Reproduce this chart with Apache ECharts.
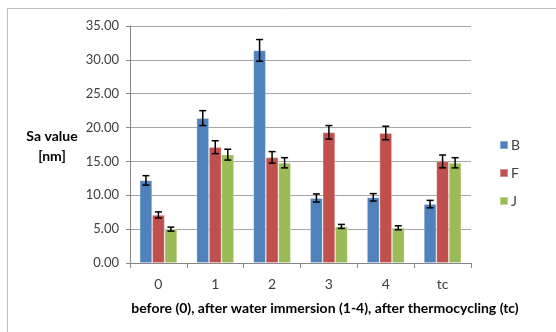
<!DOCTYPE html>
<html>
<head>
<meta charset="utf-8">
<script src="https://cdn.jsdelivr.net/npm/echarts@6/dist/echarts.min.js"></script>
<style>
html,body{margin:0;padding:0;background:#fff;}
#c{width:556px;height:332px;}
</style>
</head>
<body>
<div id="c"></div>
<script>
var categories = ['0', '1', '2', '3', '4', 'tc'];
var seriesNames = ['B', 'F', 'J'];
var bValues = [12.2, 21.4, 31.4, 9.6, 9.7, 8.7];
var fValues = [7.1, 17.1, 15.6, 19.3, 19.2, 15.0];
var jValues = [5.0, 16.0, 14.8, 5.4, 5.2, 14.8];
var bErr = [0.7, 1.1, 1.6, 0.6, 0.55, 0.55];
var fErr = [0.45, 0.95, 0.85, 1.0, 1.0, 0.95];
var jErr = [0.3, 0.8, 0.75, 0.3, 0.3, 0.75];
var yTicks = [0, 5, 10, 15, 20, 25, 30, 35];

var colors = ['#4F81BD', '#C0504D', '#9BBB59'];
var FONT = 'Lato';
var CAT_GAP = 0.34;

var allValues = [bValues, fValues, jValues];
var allErr = [bErr, fErr, jErr];

function errData(k) {
  return categories.map(function (c, i) {
    return [i, allValues[k][i] - allErr[k][i], allValues[k][i] + allErr[k][i]];
  });
}

function makeErrRender(k) {
  return function (params, api) {
    var idx = api.value(0);
    var lo = api.coord([idx, api.value(1)]);
    var hi = api.coord([idx, api.value(2)]);
    var band = api.size([1, 0])[0];
    var bw = band * (1 - CAT_GAP) / 3;
    var x = lo[0] + (k - 1) * bw;
    var cap = 3.5;
    var st = { stroke: '#000', lineWidth: 1.5 };
    return {
      type: 'group',
      children: [
        { type: 'line', shape: { x1: x, y1: hi[1], x2: x, y2: lo[1] }, style: st },
        { type: 'line', shape: { x1: x - cap, y1: hi[1], x2: x + cap, y2: hi[1] }, style: st },
        { type: 'line', shape: { x1: x - cap, y1: lo[1], x2: x + cap, y2: lo[1] }, style: st }
      ]
    };
  };
}

var series = [];
for (var k = 0; k < 3; k++) {
  series.push({
    name: seriesNames[k],
    type: 'bar',
    data: allValues[k],
    barGap: '0%',
    barCategoryGap: (CAT_GAP * 100) + '%',
    itemStyle: { color: colors[k], borderColor: 'rgba(255,255,255,0.35)', borderWidth: 0.8 },
    z: 2
  });
}
for (var k2 = 0; k2 < 3; k2++) {
  series.push({
    type: 'custom',
    name: seriesNames[k2] + '_err',
    data: errData(k2),
    renderItem: makeErrRender(k2),
    encode: { x: 0, y: [1, 2] },
    z: 5,
    silent: true
  });
}

var chart = echarts.init(document.getElementById('c'), null, { renderer: 'canvas' });
chart.setOption({
  animation: false,
  backgroundColor: '#fff',
  grid: { left: 130, right: 85, top: 26, bottom: 69 },
  legend: {
    data: seriesNames,
    orient: 'vertical',
    left: 494,
    top: 133,
    itemWidth: 8,
    itemHeight: 8,
    itemGap: 14,
    icon: 'rect',
    textStyle: { fontFamily: FONT, fontSize: 14, color: '#404040', padding: [0, 0, 0, -2] }
  },
  xAxis: {
    type: 'category',
    data: categories,
    axisLine: { lineStyle: { color: '#868686', width: 1 } },
    axisTick: { show: true, length: 5, lineStyle: { color: '#868686' } },
    axisLabel: { fontFamily: FONT, fontSize: 14, color: '#404040', margin: 14 }
  },
  yAxis: {
    type: 'value',
    min: yTicks[0],
    max: yTicks[yTicks.length - 1],
    interval: yTicks[1] - yTicks[0],
    axisLine: { show: true, lineStyle: { color: '#868686' } },
    axisTick: { show: true, length: 4, lineStyle: { color: '#868686' } },
    axisLabel: {
      fontFamily: FONT, fontSize: 13, color: '#404040', margin: 11,
      formatter: function (v) { return v.toFixed(2); }
    },
    splitLine: { lineStyle: { color: '#A6A6A6', width: 1 } }
  },
  graphic: [
    {
      type: 'rect', silent: true, z: -1,
      shape: { x: 7.5, y: 8.5, width: 600, height: 400 },
      style: { fill: 'none', stroke: '#BFBFBF', lineWidth: 1 }
    },
    {
      type: 'text', silent: true,
      position: [52, 146],
      style: {
        text: 'Sa value\n[nm]',
        font: 'bold 14px ' + FONT, fill: '#000',
        textAlign: 'center', textVerticalAlign: 'middle', lineHeight: 20
      }
    },
    {
      type: 'text', silent: true,
      position: [325, 308],
      style: {
        text: 'before (0), after water immersion (1-4), after thermocycling (tc)',
        font: 'bold 14px ' + FONT, fill: '#000',
        textAlign: 'center', textVerticalAlign: 'middle'
      }
    }
  ],
  series: series
});
</script>
</body>
</html>
